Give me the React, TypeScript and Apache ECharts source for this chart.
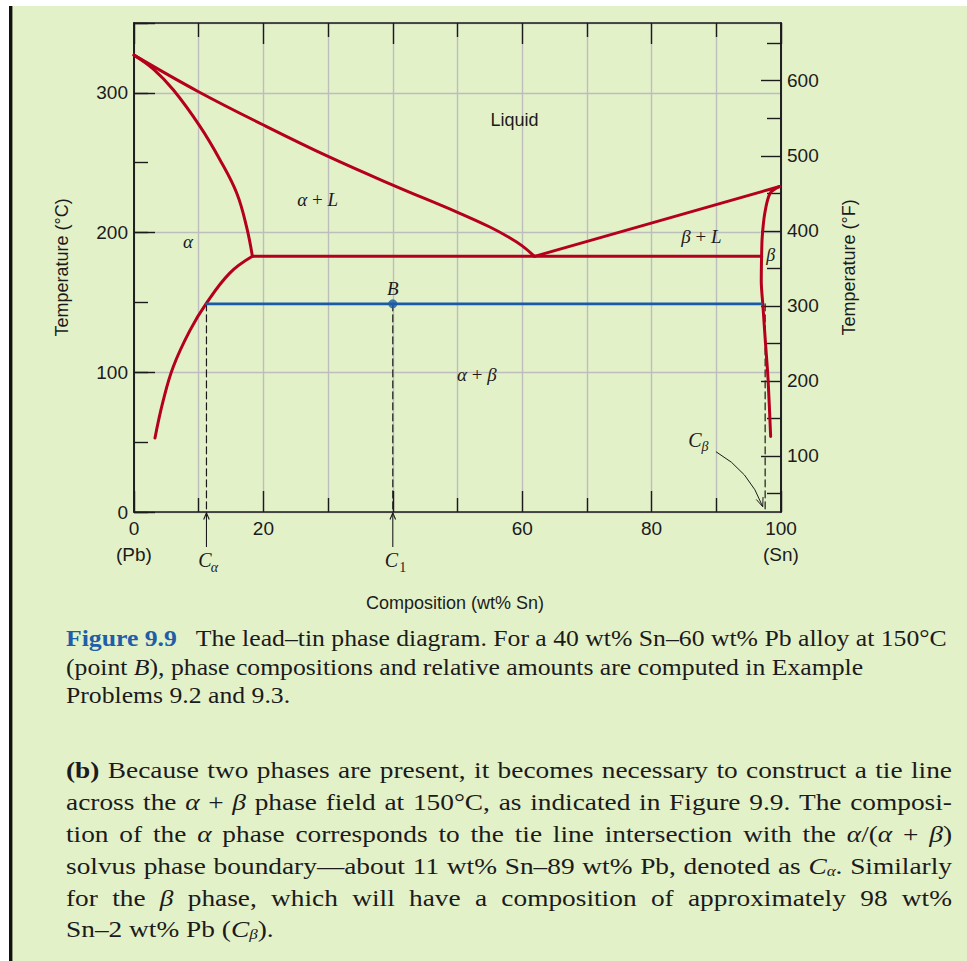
import React, { useEffect, useRef } from 'react';
import * as echarts from 'echarts';

/* ---------------- values ---------------- */
const compositionTicks = [0, 20, 40, 60, 80, 100];
const compositionTickLabels = ['0', '20', '', '60', '80', '100'];
const compositionEndNames = ['(Pb)', '', '', '', '', '(Sn)'];
const celsiusTickLabels = [0, 100, 200, 300];
const fahrenheitTicks = [100, 200, 300, 400, 500, 600];
const fahrenheitMinorTicks = [50, 150, 250, 350, 450, 550, 650];

// phase boundaries (composition wt% Sn, temperature °C)
const liquidusAlphaSn = [0, 9.9, 20, 30, 40, 50, 55, 58, 60, 61.9];
const liquidusAlphaT = [327, 301, 277, 254.5, 234, 214.5, 204, 196.5, 190.5, 183];
const solidusAlphaSn = [0, 3, 6.1, 10.2, 13.3, 15.9, 17.4, 18.3];
const solidusAlphaT = [327, 317, 302, 276, 252, 228, 204, 183];
const solvusAlphaSn = [18.3, 14.8, 11.2, 8.65, 6.07, 4.53, 3.24];
const solvusAlphaT = [183, 171, 149.5, 130, 104, 80, 53];
const eutecticSn = [18.3, 97.0];
const eutecticT = [183, 183];
const liquidusBetaSn = [61.9, 99.8];
const liquidusBetaT = [183, 233];
const betaBoundarySn = [99.8, 98.3, 97.5, 97.1, 97.0, 96.95, 97.2, 97.6, 98.0, 98.4];
const betaBoundaryT = [233, 228, 214, 197, 183, 165, 148, 121, 95, 54];

// tie line at 150 °C and the compositions it defines
const tieLineSn = [11.2, 97.0];
const tieLineT = [149, 149];
const pointB = [40, 149];
const compositionMarks = [11.2, 40, 97.55]; // C_alpha, C_1, C_beta

// caption and worked example text (one entry per printed line)
const captionLines = [
  '{fig|Figure 9.9}   The lead–tin phase diagram. For a 40 wt% Sn–60 wt% Pb alloy at 150°C',
  '(point {i|B}), phase compositions and relative amounts are computed in Example',
  'Problems 9.2 and 9.3.',
];
const paragraphLines = [
  '{b|(b)} Because two phases are present, it becomes necessary to construct a tie line',
  'across the {i|α} + {i|β} phase field at 150°C, as indicated in Figure 9.9. The composi-',
  'tion of the {i|α} phase corresponds to the tie line intersection with the {i|α}/({i|α} + {i|β})',
  'solvus phase boundary—about 11 wt% Sn–89 wt% Pb, denoted as {i|C}{sub|α}. Similarly',
  'for the {i|β} phase, which will have a composition of approximately 98 wt%',
  'Sn–2 wt% Pb ({i|C}{sub|β}).',
];

/* ---------------- styles ---------------- */
const SANS = "'Liberation Sans', Arial, Helvetica, sans-serif";
const SERIF = "'Liberation Serif', 'Times New Roman', Times, serif";
const INK = '#1b1b1b';
const RED = '#b4001c';
const BLUE = '#1b5aa5';
const CAPTION_BLUE = '#1f5ea8';
const GRID = '#bdbdbd';
const BG = '#e3f1c9';

const mathI = (size: number) => ({ fontFamily: SERIF, fontStyle: 'italic', fontSize: size, fill: INK });

function txt(text: string, x: number, y: number, o: any = {}) {
  const align = o.align ?? 'center';
  const valign = o.valign ?? 'middle';
  return {
    type: 'text',
    x,
    y,
    z: 30,
    silent: true,
    rotation: o.rotation ?? 0,
    scaleX: o.scaleX ?? 1,
    style: {
      text,
      fill: o.fill ?? INK,
      fontFamily: o.family ?? SERIF,
      fontSize: o.size ?? 20,
      fontStyle: o.italic ? 'italic' : 'normal',
      fontWeight: o.bold ? 'bold' : 'normal',
      align,
      verticalAlign: valign,
      textAlign: align,
      textVerticalAlign: valign,
      lineHeight: o.lineHeight,
      rich: o.rich,
    },
  };
}

/* text measuring, used to set each printed line's width like the typeset page */
let measureCtx: CanvasRenderingContext2D | null = null;
function fragWidth(text: string, st: any) {
  if (!text) return 0;
  if (!measureCtx) measureCtx = document.createElement('canvas').getContext('2d');
  if (!measureCtx) return text.length * st.fontSize * 0.45;
  measureCtx.font = `${st.fontStyle || 'normal'} ${st.fontWeight || 'normal'} ${st.fontSize}px ${st.fontFamily}`;
  return measureCtx.measureText(text).width;
}
const TOKEN = /\{(\w+)\|([^}]*)\}/g;
function richLineWidth(line: string, base: any, rich: any) {
  const re = new RegExp(TOKEN.source, 'g');
  let w = 0;
  let last = 0;
  let m: RegExpExecArray | null;
  while ((m = re.exec(line))) {
    w += fragWidth(line.slice(last, m.index), base);
    w += fragWidth(m[2], rich[m[1]] || base);
    last = re.lastIndex;
  }
  w += fragWidth(line.slice(last), base);
  return w;
}
// turns the word spaces of a justified line into sized space tokens
function spacedLine(line: string) {
  const re = new RegExp(TOKEN.source, 'g');
  let out = '';
  let last = 0;
  let n = 0;
  let m: RegExpExecArray | null;
  const conv = (s: string) => {
    n += (s.match(/ /g) || []).length;
    return s.replace(/ /g, '{sp| }');
  };
  while ((m = re.exec(line))) {
    out += conv(line.slice(last, m.index)) + m[0];
    last = re.lastIndex;
  }
  out += conv(line.slice(last));
  return { text: out, spaces: n };
}

const zip = (xs: number[], ys: number[]) => xs.map((x, i) => [x, ys[i]]);

function curve(xs: number[], ys: number[], color: string, width: number, smooth: number | boolean, z = 4, dash?: any) {
  return {
    type: 'line',
    data: zip(xs, ys),
    symbol: 'none',
    showSymbol: false,
    clip: false,
    smooth,
    silent: true,
    z,
    lineStyle: { color, width, type: dash ?? 'solid', cap: 'round', join: 'round' },
  };
}

function buildOption() {
  const axisLine = { show: true, onZero: false, lineStyle: { color: INK, width: 1.6 } };
  const tickLine = { color: INK, width: 1.4 };
  const labelBase = { color: INK, fontFamily: SANS, fontSize: 19 };
  return {
    animation: false,
    backgroundColor: BG,
    textStyle: { fontFamily: SANS },
    grid: { left: 134, top: 23, right: 186, bottom: 449, containLabel: false, outerBoundsMode: 'none' },
    xAxis: [
      {
        type: 'value',
        position: 'bottom',
        min: 0,
        max: 100,
        interval: 20,
        axisLine,
        axisTick: { show: true, inside: true, length: 21, lineStyle: tickLine },
        minorTick: { show: true, splitNumber: 2, length: 14, lineStyle: tickLine },
        splitLine: { show: true, lineStyle: { color: GRID, width: 1.4 } },
        minorSplitLine: { show: true, lineStyle: { color: GRID, width: 1.4 } },
        axisLabel: {
          ...labelBase,
          margin: 3,
          lineHeight: 26,
          formatter: (v: number) => {
            const i = compositionTicks.indexOf(v);
            if (i < 0) return '';
            return compositionEndNames[i]
              ? compositionTickLabels[i] + '\n' + compositionEndNames[i]
              : compositionTickLabels[i];
          },
        },
      },
      {
        type: 'value',
        position: 'top',
        min: 0,
        max: 100,
        interval: 20,
        axisLine,
        axisTick: { show: true, inside: true, length: 21, lineStyle: tickLine },
        minorTick: { show: true, splitNumber: 2, length: 14, lineStyle: tickLine },
        splitLine: { show: false },
        axisLabel: { show: false },
      },
    ],
    yAxis: [
      {
        type: 'value',
        position: 'left',
        min: 0,
        max: 350,
        interval: 100,
        axisLine,
        axisTick: { show: true, inside: true, length: 21, lineStyle: tickLine },
        splitLine: { show: true, lineStyle: { color: GRID, width: 1.4 } },
        axisLabel: {
          ...labelBase,
          margin: 6,
          formatter: (v: number) => (celsiusTickLabels.includes(v) ? String(v) : ''),
        },
      },
      {
        type: 'value',
        position: 'left',
        min: 0,
        max: 350,
        interval: 50,
        axisLine,
        axisTick: { show: true, inside: true, length: 14, lineStyle: tickLine },
        splitLine: { show: false },
        axisLabel: { show: false },
      },
      {
        type: 'value',
        position: 'right',
        min: 25.3,
        max: 676.9,
        axisLine,
        axisTick: { show: true, inside: true, length: 20, lineStyle: tickLine, customValues: fahrenheitTicks },
        splitLine: { show: false },
        axisLabel: { ...labelBase, margin: 6, customValues: fahrenheitTicks },
      },
      {
        type: 'value',
        position: 'right',
        min: 25.3,
        max: 676.9,
        axisLine,
        axisTick: { show: true, inside: true, length: 14, lineStyle: tickLine, customValues: fahrenheitMinorTicks },
        splitLine: { show: false },
        axisLabel: { show: false, customValues: fahrenheitMinorTicks },
      },
    ],
    series: [
      curve(liquidusAlphaSn, liquidusAlphaT, RED, 3, 0.4),
      curve(solidusAlphaSn, solidusAlphaT, RED, 3, 0.4),
      curve(solvusAlphaSn, solvusAlphaT, RED, 3, 0.4),
      curve(eutecticSn, eutecticT, RED, 3, false),
      curve(liquidusBetaSn, liquidusBetaT, RED, 3, false),
      curve(betaBoundarySn, betaBoundaryT, RED, 3, 0.3),
      ...compositionMarks.map((c) => curve([c, c], [tieLineT[0], 0], INK, 1.2, false, 3, [7, 4])),
      curve(tieLineSn, tieLineT, BLUE, 2.6, false, 5),
      {
        type: 'scatter',
        data: [pointB],
        symbol: 'circle',
        symbolSize: 9,
        silent: true,
        z: 6,
        itemStyle: { color: BLUE },
      },
    ],
  };
}

function buildGraphics(px: (x: number, y: number) => number[]) {
  const els: any[] = [];
  // page frame: white top strip, black rule at the left
  els.push({ type: 'rect', silent: true, shape: { x: 0, y: 0, width: 967, height: 6 }, style: { fill: '#ffffff' } });
  els.push({ type: 'rect', silent: true, shape: { x: 0, y: 0, width: 9, height: 961 }, style: { fill: '#ffffff' } });
  els.push({ type: 'rect', silent: true, shape: { x: 9, y: 6, width: 3.4, height: 955 }, style: { fill: '#111111' } });

  const [xl, yb] = px(0, 0);
  const [xr, yt] = px(100, 350);
  const midY = (yb + yt) / 2;

  // axis titles
  els.push(txt('Temperature (°C)', xl - 72, midY, { family: SANS, size: 18, rotation: Math.PI / 2 }));
  els.push(txt('Temperature (°F)', xr + 68, midY, { family: SANS, size: 18, rotation: Math.PI / 2 }));
  els.push(txt('Composition (wt% Sn)', (xl + xr) / 2 - 2.5, yb + 91, { family: SANS, size: 18 }));

  // phase field labels
  let p = px(58.8, 280.8);
  els.push(txt('Liquid', p[0], p[1], { family: SANS, size: 18 }));
  p = px(28.4, 223.5);
  els.push(txt('{i|α} + {i|L}', p[0], p[1], { size: 19, rich: { i: mathI(19) } }));
  p = px(8.34, 193.4);
  els.push(txt('α', p[0], p[1], { size: 19, italic: true }));
  p = px(87.7, 197);
  els.push(txt('{i|β} + {i|L}', p[0], p[1], { size: 19, rich: { i: mathI(19) } }));
  p = px(98.4, 184.1);
  els.push(txt('β', p[0], p[1], { size: 18, italic: true }));
  p = px(pointB[0], pointB[1]);
  els.push(txt('B', p[0], p[1] - 15, { size: 19, italic: true }));
  p = px(53.0, 98.1);
  els.push(txt('{i|α} + {i|β}', p[0], p[1], { size: 19, rich: { i: mathI(19) } }));

  // composition markers below the axis: C_alpha and C_1
  const subs = ['α', '1'];
  [compositionMarks[0], compositionMarks[1]].forEach((c, k) => {
    const [x, y] = px(c, 0);
    els.push({ type: 'line', silent: true, z: 20, shape: { x1: x, y1: y + 35, x2: x, y2: y + 1 }, style: { stroke: INK, lineWidth: 1.1 } });
    els.push({
      type: 'polyline', silent: true, z: 20,
      shape: { points: [[x - 2.8, y + 7.5], [x, y + 1], [x + 2.8, y + 7.5]] },
      style: { stroke: INK, lineWidth: 1.1, fill: 'none' },
    });
    els.push(txt('C', x - 1.5, y + 48, { size: 20, italic: true }));
    els.push(txt(subs[k], x + (k === 0 ? 8 : 10), y + 55, { size: 14, italic: k === 0 }));
  });

  // C_beta label with curved arrow
  {
    const [x, y] = px(compositionMarks[2], 0);
    els.push(txt('C', x - 70.2, y - 72.5, { size: 20, italic: true }));
    els.push(txt('β', x - 60.2, y - 65.5, { size: 14, italic: true }));
    const s = [x - 49.2, y - 60.3];
    const cp = [x - 15.5, y - 41.2];
    const e = [x - 2.4, y - 5.3];
    els.push({
      type: 'bezierCurve', silent: true, z: 20,
      shape: { x1: s[0], y1: s[1], x2: e[0], y2: e[1], cpx1: cp[0], cpy1: cp[1] },
      style: { stroke: INK, lineWidth: 1, fill: 'none' },
    });
    const dx = e[0] - cp[0];
    const dy = e[1] - cp[1];
    const len = Math.hypot(dx, dy);
    const ux = dx / len;
    const uy = dy / len;
    const back = 9;
    const half = 3.6;
    els.push({
      type: 'polyline', silent: true, z: 20,
      shape: {
        points: [
          [e[0] - ux * back - uy * half, e[1] - uy * back + ux * half],
          [e[0], e[1]],
          [e[0] - ux * back + uy * half, e[1] - uy * back - ux * half],
        ],
      },
      style: { stroke: INK, lineWidth: 1, fill: 'none' },
    });
  }

  // figure caption (ragged right, one common width factor)
  const capSize = 23;
  const capBase = { fontFamily: SERIF, fontSize: capSize, fill: INK };
  const capRich = {
    fig: { ...capBase, fontWeight: 'bold', fill: CAPTION_BLUE },
    i: { ...capBase, fontStyle: 'italic' },
  };
  const capLeft = 66;
  const capFirstRight = 948;
  const capScale = (capFirstRight - capLeft) / richLineWidth(captionLines[0], capBase, capRich);
  const capY = [638, 666.5, 694.5];
  captionLines.forEach((line, i) => {
    els.push(txt(line, capLeft, capY[i], { align: 'left', valign: 'middle', size: capSize, rich: capRich, scaleX: capScale }));
  });

  // worked example paragraph: justified, full lines span the column through wider word spaces
  const pSize = 24;
  const pBase = { fontFamily: SERIF, fontSize: pSize, fill: INK };
  const pRich = {
    b: { ...pBase, fontWeight: 'bold' },
    i: { ...pBase, fontStyle: 'italic' },
    sub: { fontFamily: SERIF, fontSize: 15, fontStyle: 'italic', fill: INK, lineHeight: 18, verticalAlign: 'bottom' },
  };
  const pLeft = 66;
  const pRight = 952;
  const pY = [770, 802, 834, 866, 898, 929];
  const glyphScale = 1.14;
  const spaceW = fragWidth(' ', pBase);
  paragraphLines.forEach((line, i) => {
    const isLast = i === paragraphLines.length - 1;
    if (isLast) {
      els.push(txt(line, pLeft, pY[i], { align: 'left', valign: 'middle', size: pSize, rich: pRich, scaleX: glyphScale }));
      return;
    }
    const natural = richLineWidth(line, pBase, pRich);
    const target = (pRight - pLeft) / glyphScale;
    if (natural >= target) {
      els.push(txt(line, pLeft, pY[i], { align: 'left', valign: 'middle', size: pSize, rich: pRich, scaleX: (pRight - pLeft) / natural }));
      return;
    }
    const { text, spaces } = spacedLine(line);
    const extra = spaces > 0 ? (target - natural) / spaces : 0;
    const rich = { ...pRich, sp: { ...pBase, width: spaceW + extra } };
    els.push(txt(text, pLeft, pY[i], { align: 'left', valign: 'middle', size: pSize, rich, scaleX: glyphScale }));
  });

  return els;
}

export default function App() {
  const ref = useRef<HTMLDivElement>(null);
  useEffect(() => {
    if (!ref.current) return;
    const chart = echarts.init(ref.current, null, { renderer: 'svg' });
    chart.setOption(buildOption() as any);
    const px = (x: number, y: number) => chart.convertToPixel({ seriesIndex: 0 }, [x, y]) as number[];
    chart.setOption({ graphic: buildGraphics(px) } as any);
    return () => chart.dispose();
  }, []);
  return (
    <div
      ref={ref}
      style={{ position: 'fixed', left: 0, top: 0, width: 967, height: 961 }}
    />
  );
}
